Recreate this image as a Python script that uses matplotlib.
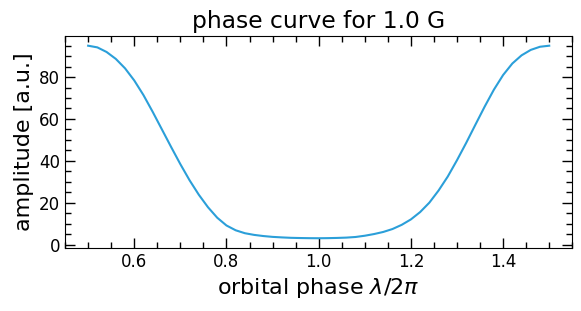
import numpy as np
import matplotlib
matplotlib.use("Agg")
import matplotlib.pyplot as plt
from matplotlib.ticker import MultipleLocator

# values
phase = [0.50, 0.52, 0.54, 0.56, 0.58, 0.60, 0.62, 0.64, 0.66, 0.68,
         0.70, 0.72, 0.74, 0.76, 0.78, 0.80, 0.82, 0.84, 0.86, 0.88,
         0.90, 0.92, 0.94, 0.96, 0.98, 1.00, 1.02, 1.04, 1.06, 1.08,
         1.10, 1.12, 1.14, 1.16, 1.18, 1.20, 1.22, 1.24, 1.26, 1.28,
         1.30, 1.32, 1.34, 1.36, 1.38, 1.40, 1.42, 1.44, 1.46, 1.48,
         1.50]
amplitude = [95.0, 94.2, 92.0, 88.7, 84.2, 78.4, 71.4, 63.4, 55.0, 46.6,
             38.4, 30.7, 23.8, 17.8, 12.8, 9.1, 6.8, 5.4, 4.6, 4.05,
             3.65, 3.4, 3.2, 3.1, 3.03, 3.0, 3.05, 3.15, 3.3, 3.6,
             4.2, 5.0, 6.0, 7.4, 9.4, 12.0, 15.5, 20.0, 25.8, 32.5,
             40.3, 48.6, 57.3, 65.9, 74.0, 81.0, 86.5, 90.4, 93.0, 94.5,
             95.0]
field = "1.0 G"

fig, ax = plt.subplots(figsize=(5.81, 3.11), dpi=100)
fig.subplots_adjust(left=0.112, right=0.985, top=0.884, bottom=0.203)

ax.plot(phase, amplitude, color="#2b9fd9", lw=1.5)

ax.set_title("phase curve for " + field, fontsize=16.8)
ax.set_xlabel(r"orbital phase $\lambda/2\pi$", fontsize=16)
ax.set_ylabel("amplitude [a.u.]", fontsize=16)

ax.xaxis.set_major_locator(MultipleLocator(0.2))
ax.xaxis.set_minor_locator(MultipleLocator(0.05))
ax.yaxis.set_major_locator(MultipleLocator(20))
ax.yaxis.set_minor_locator(MultipleLocator(5))
ax.tick_params(which="both", direction="in", top=True, right=True, labelsize=12)
ax.tick_params(which="major", length=7, width=1)
ax.tick_params(which="minor", length=4, width=1)

plt.savefig("out.png", dpi=100)
